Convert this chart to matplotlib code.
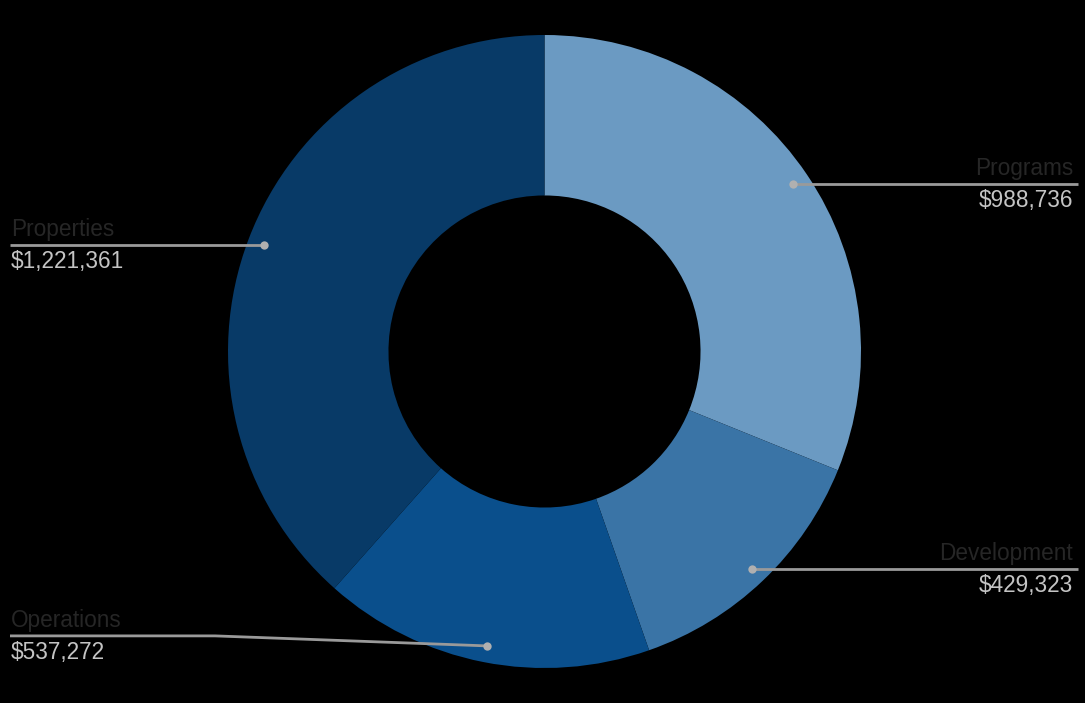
import numpy as np
import matplotlib.pyplot as plt

plt.rcParams['font.family'] = ['Liberation Sans', 'DejaVu Sans']

categories = ["Programs", "Development", "Operations", "Properties"]
values = [988736, 429323, 537272, 1221361]
colors = ["#6b9ac2", "#3a74a6", "#0a4f8c", "#083a67"]

fig = plt.figure(figsize=(10.85, 7.03), dpi=100, facecolor="black")
ax = fig.add_axes([0, 0, 1, 1])
ax.set_facecolor("black")

cx, cy, R = 544.5, 351.5, 316.5
wedges, _ = ax.pie(values, colors=colors, startangle=90, counterclock=False,
                   center=(cx, cy), radius=R, wedgeprops=dict(width=R * 0.507, linewidth=0))
ax.set_xlim(0, 1085)
ax.set_ylim(0, 703)
ax.set_aspect("equal")
ax.axis("off")

# label layout: side and vertical shift of the label line relative to the dot
sides = ["right", "right", "left", "left"]
shifts = [0, 0, 10, 0]

for w, name, v, side, sh in zip(wedges, categories, values, sides, shifts):
    ang = np.deg2rad((w.theta1 + w.theta2) / 2)
    px = cx + 0.948 * R * np.cos(ang)
    py = cy + 0.948 * R * np.sin(ang)
    ly = py + sh
    if side == "right":
        ax.plot([px, 1078], [ly, ly], color="#9a9a9a", lw=2, solid_capstyle="butt")
        tx, ha = 1073, "right"
    else:
        ax.plot([10, 215, px], [ly, ly, py], color="#9a9a9a", lw=2, solid_capstyle="butt")
        tx, ha = 11, "left"
    ax.plot(px, py, "o", color="#b0b0b0", ms=6, mec="none")
    ax.text(tx, ly + 4, name, ha=ha, va="bottom", fontsize=16.3, color="#262626")
    ax.text(tx, ly - 5, f"${v:,}", ha=ha, va="top", fontsize=16.3, color="#c4c4c4")

fig.savefig("out.png", dpi=100, facecolor="black")
